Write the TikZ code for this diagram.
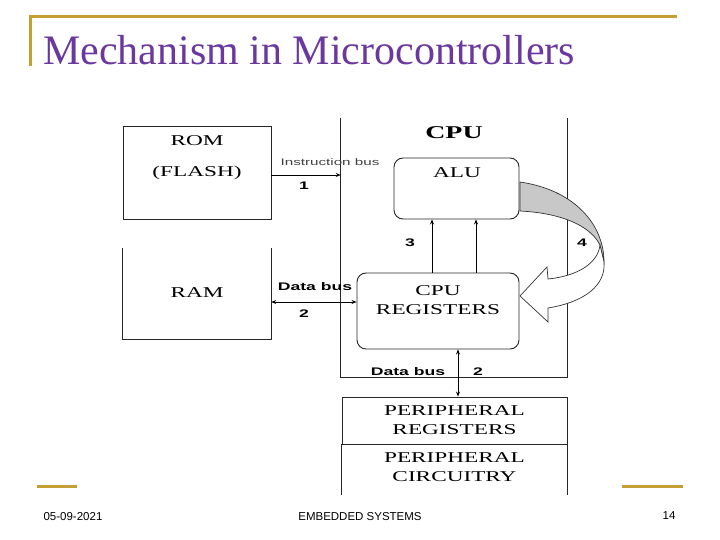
\documentclass[tikz,border=0pt]{standalone}
\usepackage{fontspec}
\setmainfont{Liberation Serif}
\setsansfont{Liberation Sans}
\newfontfamily\wideSerif[FakeStretch=1.55]{Liberation Serif}
\newfontfamily\wideSans[FakeStretch=1.6]{Liberation Sans}
\usetikzlibrary{arrows.meta, positioning, calc}
\definecolor{slidePurple}{RGB}{106, 56, 158}
\definecolor{slideGold}{RGB}{196, 160, 52}
\definecolor{loopGray}{RGB}{200, 200, 200}
\tikzset{
    boxLine/.style={line width=0.9pt, black!85},
    blockBox/.style={draw, boxLine, rectangle, inner sep=0pt},
    roundBox/.style={draw, boxLine, rounded corners=9pt, inner sep=0pt},
    ghostBox/.style={rectangle, inner sep=0pt},
    blockText/.style={font=\wideSerif\fontsize{15}{19}\selectfont, align=center, inner sep=0pt},
    busText/.style={font=\wideSans\fontsize{9.5}{11}\selectfont, text=black!75, inner sep=0pt},
    busBold/.style={font=\wideSans\bfseries\fontsize{11}{12}\selectfont, inner sep=0pt},
    busNum/.style={font=\wideSans\bfseries\fontsize{11}{12}\selectfont, inner sep=0pt},
    busArrow/.style={line width=0.8pt, -{Stealth[length=5pt, width=4pt]}},
    busBoth/.style={line width=0.8pt, {Stealth[length=5pt, width=4pt]}-{Stealth[length=5pt, width=4pt]}},
    goldRule/.style={slideGold, line width=3pt},
    footText/.style={font=\sffamily\fontsize{11.5}{13}\selectfont, inner sep=0pt},
}

\begin{document}
\begin{tikzpicture}[x=1pt, y=-1pt]
    \useasboundingbox (0,0) rectangle (720,540);

    % Title
    \draw[goldRule] (30,66) -- (30,17) -- (677,17);
    \node[font=\fontsize{42}{46}\selectfont, text=slidePurple, anchor=base west, inner sep=0pt]
        (title) at (43,65) {Mechanism in Microcontrollers};

    % Memories
    \node[blockBox, minimum width=148pt, minimum height=93pt] (rom) at (197,172.5) {};
    \node[blockText] (romLbl) at (197,141) {ROM};
    \node[blockText] (flashLbl) at (197,173) {(FLASH)};
    \node[ghostBox, minimum width=148pt, minimum height=91pt] (ram) at (197,293.5) {};
    \draw[boxLine] (ram.north west) -- (ram.south west) -- (ram.south east) -- (ram.north east);
    \node[blockText] (ramLbl) at (197,293) {RAM};

    % CPU
    \node[ghostBox, minimum width=226pt, minimum height=259pt] (cpu) at (454,247.5) {};
    \draw[boxLine] (cpu.north west) -- (cpu.south west) -- (cpu.south east) -- (cpu.north east);
    \node[blockText, font=\wideSerif\bfseries\fontsize{18}{20}\selectfont] (cpuLbl) at (454,133) {CPU};
    \node[roundBox, minimum width=125pt, minimum height=61pt] (alu) at (456.5,188.5) {};
    \node[blockText] (aluLbl) at (457,173) {ALU};
    \node[roundBox, minimum width=162pt, minimum height=76pt] (reg) at (438,311) {};
    \node[blockText] (regLbl) at (438,300) {CPU\\REGISTERS};

    % Peripherals
    \node[blockBox, minimum width=225pt, minimum height=47pt] (perReg) at (454.5,420.5) {};
    \node[blockText] (perRegLbl) at (454.5,420) {PERIPHERAL\\REGISTERS};
    \node[ghostBox, minimum width=225pt, minimum height=51pt] (perCkt) at (454.5,469.5) {};
    \draw[boxLine] (perCkt.south west) -- (perCkt.north west)
        (perCkt.north east) -- (perCkt.south east);
    \node[blockText] (perCktLbl) at (454.5,467) {PERIPHERAL\\CIRCUITRY};

    % Instruction bus
    \coordinate (insBus) at ([yshift=-2.5pt]rom.east);
    \draw[busArrow] (insBus) -- (insBus -| cpu.west);
    \node[busText] (insLbl) at (330,162) {Instruction bus};
    \node[busNum] (insNum) at (304,186) {1};

    % Data bus to RAM
    \coordinate (ramBus) at ([yshift=9pt]reg.west);
    \draw[busBoth] (ram.east |- ramBus) -- (ramBus);
    \node[busBold] (ramBusLbl) at (315,287) {Data bus};
    \node[busNum] (ramBusNum) at (304,314) {2};

    % Operands to ALU
    \foreach \dx [count=\i] in {-24.5, 19.5} {
        \coordinate (aluIn\i) at ([xshift=\dx pt]alu.south);
        \draw[busArrow] (aluIn\i |- reg.north) -- (aluIn\i);
    }
    \node[busNum] (aluNum) at (410,243) {3};

    % Result back to registers
    \filldraw[fill=loopGray, draw=black!80, line width=0.7pt]
        (520,182) .. controls (575,190) and (604,225) .. (604,262)
        -- (600,245) .. controls (590,225) and (560,213) .. (520,211) -- cycle;
    \filldraw[fill=white, draw=black!80, line width=0.7pt]
        (600,245) .. controls (598,263) and (578,276) .. (548,279)
        -- (547,267) -- (520,296) -- (548,322) -- (548,308)
        .. controls (585,302) and (606,285) .. (604,262) -- cycle;
    \node[busNum] (loopNum) at (582,243) {4};

    % Data bus to peripherals
    \coordinate (perBus) at ([xshift=20pt]reg.south);
    \draw[busBoth] (perBus) -- (perBus |- perReg.north);
    \node[busBold] (perBusLbl) at (408,372) {Data bus};
    \node[busNum] (perBusNum) at (478,372) {2};

    % Footer
    \draw[goldRule] (37,486) -- (77,486);
    \draw[goldRule] (622,486) -- (683,486);
    \node[footText] (date) at (73,517) {05-09-2021};
    \node[footText] (course) at (360,517) {EMBEDDED SYSTEMS};
    \node[footText] (page) at (669,516) {14};

\end{tikzpicture}
\end{document}
